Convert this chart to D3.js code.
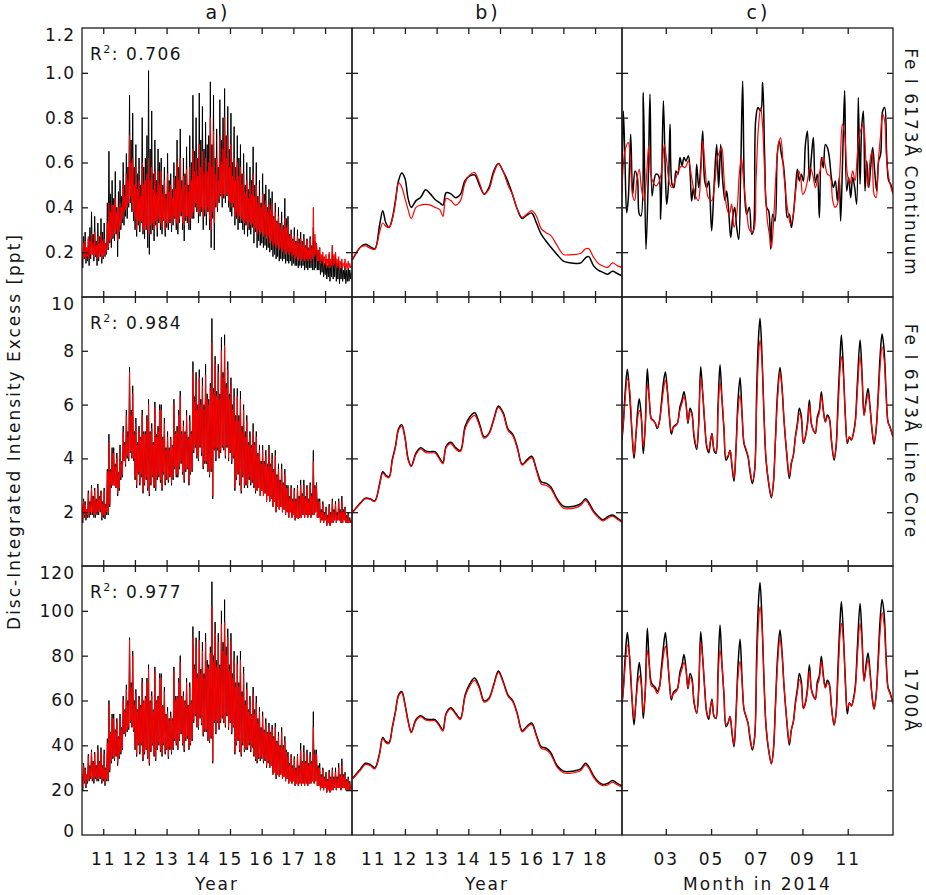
<!DOCTYPE html>
<html><head><meta charset="utf-8">
<script src="https://cdn.jsdelivr.net/npm/d3@7"></script>
<style>
body{margin:0;background:#fff}
text{font-family:"DejaVu Sans",sans-serif;fill:#151515}
</style>
</head><body><svg id="chart" width="926" height="895"></svg>
<script>
// ---------------- DATA ----------------
// panel a: samples every 0.025 yr from 2010.33
const yearsA = d3.range(341).map(i => +(2010.33 + 0.025 * i).toFixed(3));
const contA_black = [
0.20,0.13,0.27,0.17,0.29,0.15,0.22,0.16,0.26,0.14,0.31,0.17,0.38,0.19,0.28,0.16,0.36,0.18,0.25,0.14,
0.33,0.16,0.27,0.18,0.35,0.15,0.29,0.17,0.33,0.18,0.24,0.19,0.42,0.21,0.65,0.24,0.46,0.22,0.52,0.26,
0.44,0.25,0.56,0.28,0.40,0.18,0.47,0.26,0.52,0.30,0.45,0.33,0.60,0.32,0.50,0.36,0.64,0.35,0.58,0.40,
0.90,0.42,0.70,0.38,0.82,0.34,0.58,0.30,0.68,0.27,0.55,0.32,0.62,0.29,0.50,0.33,0.80,0.28,0.58,0.26,
0.62,0.30,0.72,0.22,1.01,0.19,0.66,0.28,0.83,0.30,0.55,0.25,0.70,0.32,0.52,0.27,0.66,0.33,0.60,0.30,
0.62,0.28,0.50,0.34,0.58,0.27,0.46,0.31,0.64,0.30,0.52,0.33,0.55,0.29,0.48,0.32,0.60,0.35,0.54,0.30,
0.70,0.28,0.58,0.33,0.75,0.36,0.52,0.30,0.62,0.25,0.55,0.34,0.67,0.33,0.50,0.30,0.72,0.30,0.60,0.35,
0.90,0.35,0.65,0.40,0.80,0.38,0.62,0.33,0.91,0.36,0.70,0.38,0.85,0.30,0.66,0.36,0.78,0.32,0.68,0.38,
0.72,0.30,0.96,0.22,0.68,0.35,0.90,0.21,0.62,0.40,0.75,0.38,0.58,0.42,0.88,0.45,0.70,0.40,0.80,0.44,
0.93,0.42,0.72,0.45,0.85,0.40,0.66,0.38,0.82,0.36,0.60,0.40,0.76,0.32,0.58,0.35,0.72,0.30,0.62,0.33,
0.68,0.33,0.55,0.30,0.64,0.28,0.50,0.32,0.60,0.27,0.48,0.30,0.58,0.28,0.52,0.31,0.67,0.24,0.50,0.29,
0.60,0.22,0.45,0.25,0.52,0.23,0.42,0.24,0.55,0.22,0.46,0.23,0.50,0.21,0.40,0.22,0.48,0.20,0.44,0.21,
0.47,0.18,0.36,0.19,0.42,0.17,0.34,0.18,0.40,0.16,0.33,0.17,0.38,0.16,0.32,0.17,0.44,0.15,0.35,0.16,
0.36,0.15,0.28,0.16,0.30,0.14,0.26,0.15,0.31,0.14,0.25,0.14,0.30,0.13,0.26,0.14,0.29,0.13,0.25,0.14,
0.28,0.12,0.23,0.13,0.26,0.12,0.22,0.13,0.27,0.13,0.23,0.12,0.31,0.12,0.25,0.13,0.24,0.12,0.21,0.12,
0.22,0.10,0.17,0.11,0.18,0.09,0.15,0.10,0.17,0.08,0.14,0.09,0.19,0.07,0.15,0.09,0.23,0.08,0.17,0.09,
0.20,0.07,0.15,0.08,0.16,0.06,0.13,0.08,0.15,0.07,0.12,0.08,0.14,0.06,0.12,0.07,0.13,0.07,0.12,0.08,
0.11];
const contA_red = [
0.20,0.17,0.24,0.18,0.25,0.17,0.22,0.18,0.27,0.17,0.25,0.19,0.28,0.19,0.24,0.18,0.29,0.19,0.23,0.17,
0.27,0.18,0.24,0.19,0.28,0.17,0.25,0.18,0.26,0.19,0.23,0.20,0.33,0.22,0.42,0.25,0.38,0.26,0.41,0.27,
0.41,0.28,0.44,0.30,0.38,0.25,0.40,0.29,0.42,0.32,0.40,0.35,0.50,0.38,0.45,0.39,0.55,0.40,0.52,0.42,
0.72,0.45,0.60,0.42,0.62,0.38,0.50,0.35,0.58,0.30,0.48,0.34,0.52,0.32,0.45,0.34,0.60,0.30,0.50,0.30,
0.52,0.32,0.55,0.30,0.62,0.28,0.52,0.32,0.58,0.33,0.48,0.30,0.56,0.34,0.46,0.31,0.56,0.35,0.50,0.33,
0.56,0.31,0.46,0.35,0.52,0.30,0.44,0.33,0.55,0.33,0.47,0.35,0.50,0.32,0.44,0.34,0.53,0.36,0.48,0.33,
0.60,0.32,0.52,0.35,0.62,0.38,0.48,0.33,0.54,0.32,0.50,0.36,0.57,0.36,0.47,0.33,0.58,0.35,0.52,0.36,
0.66,0.38,0.56,0.42,0.62,0.40,0.54,0.37,0.68,0.38,0.58,0.40,0.65,0.36,0.55,0.39,0.62,0.37,0.56,0.40,
0.60,0.35,0.80,0.30,0.58,0.38,0.74,0.33,0.55,0.42,0.62,0.40,0.52,0.44,0.72,0.46,0.60,0.44,0.66,0.46,
0.80,0.45,0.62,0.46,0.72,0.43,0.58,0.42,0.68,0.40,0.54,0.42,0.62,0.36,0.52,0.38,0.60,0.35,0.54,0.36,
0.58,0.35,0.50,0.34,0.55,0.33,0.46,0.34,0.52,0.31,0.44,0.33,0.50,0.32,0.46,0.33,0.55,0.30,0.45,0.31,
0.50,0.28,0.42,0.30,0.45,0.28,0.40,0.29,0.46,0.27,0.41,0.28,0.43,0.26,0.38,0.27,0.41,0.24,0.39,0.25,
0.42,0.23,0.35,0.24,0.38,0.22,0.33,0.23,0.36,0.21,0.31,0.22,0.33,0.20,0.30,0.21,0.35,0.19,0.31,0.20,
0.32,0.19,0.27,0.20,0.28,0.18,0.25,0.19,0.27,0.17,0.24,0.18,0.27,0.16,0.24,0.17,0.26,0.16,0.23,0.17,
0.26,0.16,0.22,0.17,0.25,0.16,0.21,0.17,0.26,0.16,0.22,0.17,0.40,0.18,0.28,0.19,0.24,0.16,0.21,0.16,
0.22,0.15,0.19,0.16,0.20,0.14,0.18,0.15,0.19,0.13,0.17,0.14,0.20,0.13,0.17,0.14,0.23,0.14,0.19,0.15,
0.20,0.13,0.17,0.14,0.18,0.12,0.16,0.13,0.17,0.13,0.15,0.14,0.17,0.12,0.15,0.13,0.16,0.13,0.15,0.13,
0.14];
const coreA_black = [
2.2,1.6,2.5,1.8,2.4,1.7,2.1,1.8,2.8,1.8,2.4,1.9,3.0,1.9,2.6,1.8,2.9,1.8,2.5,1.9,
3.05,1.9,2.6,2.0,2.8,1.7,2.4,1.8,2.9,1.75,2.3,1.9,3.6,1.9,4.9,2.2,3.6,2.9,4.4,3.0,
4.4,3.0,3.8,2.9,4.2,2.6,3.5,2.8,4.5,3.2,3.9,3.3,5.2,3.9,4.6,3.7,5.8,4.0,5.0,3.9,
7.4,4.2,5.8,4.0,6.7,3.9,5.0,3.2,5.5,2.9,4.6,3.4,5.2,3.0,4.8,3.3,5.8,2.7,5.0,3.0,
5.0,3.2,5.6,2.8,6.2,2.6,5.0,3.0,5.3,3.3,4.6,2.9,6.1,2.8,4.9,3.2,5.2,3.3,6.0,3.1,
6.0,2.8,4.8,3.4,5.5,3.0,4.4,3.2,5.0,3.1,4.4,3.3,4.8,3.0,4.5,3.2,6.2,3.6,5.0,3.3,
5.2,3.3,5.8,3.6,6.5,3.8,5.0,3.4,5.4,3.1,5.0,3.5,5.8,3.6,4.8,3.0,5.6,3.4,5.0,3.5,
7.6,4.2,6.3,4.4,7.2,4.0,6.0,3.9,7.3,4.4,6.2,4.1,7.0,3.6,6.0,3.8,7.5,3.8,6.4,3.5,
6.2,3.3,6.8,3.5,9.2,2.5,6.6,4.3,7.8,3.9,6.5,4.3,7.5,4.0,6.4,4.2,8.5,4.4,7.2,4.3,
8.6,4.0,6.8,4.4,7.6,3.9,6.4,4.2,7.0,3.8,6.0,4.0,6.6,2.8,5.6,3.2,6.6,3.4,5.6,3.0,
6.5,2.7,5.2,3.3,6.0,2.9,5.0,3.0,5.6,2.9,4.6,3.2,5.0,3.0,4.5,3.1,5.3,2.9,4.6,2.7,
5.0,2.8,4.2,2.9,4.5,2.6,3.9,2.8,4.5,2.6,3.9,2.7,4.3,2.4,3.8,2.6,4.5,2.4,3.8,2.5,
4.2,2.2,3.6,2.4,4.3,2.0,3.4,2.2,3.8,2.1,3.2,2.2,3.8,2.0,3.1,2.1,3.6,1.9,3.0,2.0,
3.0,1.8,2.6,2.0,3.0,1.8,2.5,1.9,2.9,1.7,2.5,1.8,3.0,1.75,2.6,1.8,3.2,1.8,2.7,1.9,
3.2,1.8,2.6,1.9,3.0,1.8,2.5,1.9,3.1,1.8,2.7,1.9,4.3,1.9,3.0,2.0,3.1,1.8,2.5,1.8,
2.5,1.6,2.1,1.7,2.4,1.6,2.0,1.7,2.2,1.5,1.9,1.6,2.3,1.5,2.0,1.6,2.5,1.6,2.1,1.7,
2.4,1.6,2.0,1.7,2.5,1.7,2.1,1.6,2.6,1.6,2.1,1.7,2.2,1.6,1.9,1.6,2.0,1.6,1.8,1.6,
1.7];
const coreA_red = [
2.3,1.7,2.4,1.9,2.3,1.8,2.1,1.9,2.7,1.9,2.3,2.0,2.9,2.0,2.5,1.9,2.8,1.9,2.4,2.0,
2.9,2.0,2.5,2.1,2.7,1.8,2.3,1.9,2.8,1.9,2.2,2.0,3.5,2.0,4.6,2.3,3.5,3.0,4.2,3.0,
4.2,3.0,3.7,2.9,4.0,2.7,3.4,2.9,4.3,3.3,3.8,3.4,5.0,3.9,4.5,3.8,5.6,4.1,4.8,4.0,
7.2,4.3,5.6,4.1,6.4,4.0,4.9,3.3,5.3,3.0,4.5,3.5,5.0,3.1,4.7,3.4,5.6,2.8,4.9,3.1,
4.9,3.3,5.4,2.9,6.0,2.7,4.9,3.1,5.1,3.4,4.5,3.0,5.9,2.9,4.8,3.3,5.0,3.4,5.8,3.2,
5.8,2.9,4.7,3.5,5.3,3.1,4.3,3.3,4.8,3.2,4.3,3.4,4.7,3.1,4.4,3.3,6.0,3.7,4.9,3.4,
5.0,3.4,5.6,3.7,6.3,3.9,4.9,3.5,5.2,3.2,4.9,3.6,5.6,3.7,4.7,3.1,5.4,3.5,4.9,3.6,
7.2,4.3,6.1,4.5,6.9,4.1,5.8,4.0,7.0,4.5,6.0,4.2,6.7,3.7,5.8,3.9,7.1,3.9,6.2,3.6,
6.0,3.4,6.6,3.6,8.3,2.6,6.4,4.4,7.5,4.0,6.3,4.4,7.2,4.1,6.2,4.3,8.0,4.5,7.0,4.4,
8.2,4.1,6.6,4.5,7.3,4.0,6.2,4.3,6.7,3.9,5.8,4.1,6.3,2.9,5.4,3.3,6.3,3.5,5.4,3.1,
6.2,2.8,5.0,3.4,5.8,3.0,4.8,3.1,5.4,3.0,4.5,3.3,4.8,3.1,4.4,3.2,5.0,3.0,4.5,2.8,
4.8,2.8,4.1,2.9,4.3,2.6,3.8,2.8,4.3,2.6,3.8,2.7,4.1,2.4,3.7,2.6,4.3,2.4,3.7,2.5,
4.0,2.2,3.5,2.4,4.1,2.0,3.3,2.2,3.6,2.1,3.1,2.2,3.6,2.0,3.0,2.1,3.4,1.9,2.9,2.0,
2.9,1.8,2.5,2.0,2.9,1.8,2.4,1.9,2.8,1.7,2.4,1.8,2.9,1.75,2.5,1.8,3.0,1.8,2.6,1.9,
3.0,1.8,2.5,1.9,2.9,1.8,2.4,1.9,3.0,1.8,2.6,1.9,3.9,1.9,2.9,2.0,3.0,1.8,2.4,1.8,
2.4,1.6,2.0,1.7,2.3,1.6,1.9,1.7,2.1,1.5,1.8,1.6,2.2,1.5,1.9,1.6,2.4,1.6,2.0,1.7,
2.3,1.6,1.9,1.7,2.4,1.7,2.0,1.6,2.4,1.6,2.0,1.7,2.1,1.6,1.8,1.6,1.9,1.6,1.7,1.6,
1.7];
const uvA_black = [
26,20,32,23,30,21,27,23,36,24,31,25,38,24,33,23,37,25,31,24,
40,24,33,25,39,23,31,24,38,22,30,24,43,24,60,28,46,32,54,34,
54,33,47,35,52,31,44,34,54,36,48,38,62,45,56,44,67,46,60,47,
88,50,68,48,82,46,60,38,65,35,56,40,62,36,58,40,70,33,60,36,
62,38,70,34,76,31,60,37,64,40,56,35,75,33,60,38,62,40,72,37,
72,35,58,40,66,36,54,38,57,34,52,38,55,36,52,38,75,42,62,40,
62,38,70,42,80,45,62,40,64,37,60,42,70,43,58,38,68,40,60,42,
93,50,76,53,88,48,72,47,91,52,74,49,86,44,72,46,90,46,78,42,
76,41,84,43,113,32,80,50,95,45,78,50,90,47,76,50,100,52,86,50,
105,48,84,53,92,47,76,50,90,45,72,48,82,36,68,40,80,42,68,37,
82,35,64,40,75,37,60,38,68,38,56,40,62,37,54,39,66,35,56,33,
62,32,52,34,57,33,48,34,55,32,47,33,52,30,46,32,50,30,46,31,
49,27,44,28,50,25,42,27,46,26,40,27,48,25,40,26,44,24,38,25,
37,23,32,24,36,23,31,24,35,22,30,23,36,22,31,23,41,22,33,23,
40,22,33,23,38,22,32,23,37,23,33,24,55,23,38,24,38,22,31,22,
32,20,27,21,30,20,26,21,28,19,25,20,29,19,26,20,30,20,26,21,
30,20,26,21,32,21,27,20,34,21,27,21,28,20,25,20,26,20,24,20,
22];
const uvA_red = [
27,21,31,24,29,22,27,24,35,25,30,26,37,25,32,24,36,26,30,25,
38,25,32,26,37,24,30,25,36,23,29,25,41,25,58,29,45,33,52,35,
52,34,46,36,50,32,43,35,52,37,47,39,60,46,55,45,65,47,58,48,
87,51,66,49,80,47,58,39,63,36,55,41,60,37,57,41,68,34,59,37,
61,39,68,35,74,32,59,38,62,41,55,36,73,34,59,39,61,41,70,38,
70,36,57,41,64,37,53,39,55,35,51,39,53,37,51,39,73,43,60,41,
61,39,68,43,77,46,61,41,62,38,59,43,68,44,57,39,66,41,59,43,
88,51,74,54,84,49,70,48,87,53,72,50,82,45,70,47,86,47,75,43,
74,42,81,44,102,33,77,51,90,46,75,51,86,48,74,51,94,53,82,51,
95,49,80,54,88,48,73,51,86,46,70,49,78,37,66,41,76,43,66,38,
78,36,62,41,72,38,58,39,65,39,55,41,60,38,53,40,63,36,54,34,
59,33,50,35,55,34,47,35,53,33,46,34,50,31,45,33,48,30,45,31,
47,27,43,28,48,26,41,27,44,26,39,27,46,25,39,26,42,24,37,25,
35,23,31,24,35,23,30,24,34,22,29,23,35,22,30,23,38,22,32,23,
37,22,32,23,36,22,31,23,35,23,32,24,48,23,36,24,36,22,30,22,
30,20,26,21,29,20,25,21,27,19,24,20,28,19,25,20,29,20,25,21,
28,20,25,21,30,21,26,20,31,21,26,21,27,20,24,20,25,20,23,20,
22];

// panel b: smoothed series
const yearsB = [2010.35,2010.6,2010.75,2010.9,2011.05,2011.2,2011.3,2011.4,2011.5,2011.6,
2011.7,2011.8,2011.9,2012.0,2012.1,2012.2,2012.35,2012.5,2012.65,2012.8,
2012.95,2013.1,2013.2,2013.3,2013.45,2013.6,2013.75,2013.9,2014.05,2014.2,
2014.35,2014.5,2014.65,2014.8,2014.95,2015.1,2015.25,2015.4,2015.55,2015.7,
2015.85,2016.0,2016.15,2016.3,2016.45,2016.6,2016.8,2017.0,2017.2,2017.4,
2017.55,2017.7,2017.8,2017.95,2018.1,2018.25,2018.4,2018.55,2018.7,2018.85];
const contB_black = [0.168,0.223,0.235,0.225,0.215,0.32,0.385,0.33,0.31,0.35,
0.43,0.52,0.553,0.53,0.44,0.40,0.43,0.445,0.478,0.46,
0.435,0.42,0.41,0.465,0.46,0.443,0.458,0.52,0.54,0.545,
0.50,0.458,0.488,0.56,0.595,0.56,0.515,0.455,0.39,0.35,
0.365,0.375,0.33,0.28,0.25,0.223,0.19,0.16,0.153,0.15,
0.152,0.175,0.18,0.14,0.12,0.11,0.102,0.115,0.105,0.094];
const contB_red = [0.168,0.223,0.228,0.218,0.212,0.29,0.33,0.315,0.31,0.345,
0.42,0.51,0.49,0.44,0.39,0.35,0.40,0.41,0.413,0.41,
0.40,0.39,0.36,0.44,0.43,0.41,0.43,0.51,0.545,0.555,
0.51,0.46,0.48,0.55,0.595,0.56,0.50,0.455,0.39,0.355,
0.37,0.385,0.36,0.305,0.287,0.275,0.23,0.19,0.188,0.19,
0.195,0.215,0.215,0.178,0.15,0.138,0.132,0.152,0.14,0.131];
const coreB_black = [2.0,2.35,2.52,2.5,2.42,3.05,3.5,3.37,3.32,3.95,
4.45,5.1,5.25,4.8,4.0,3.72,4.2,4.4,4.28,4.25,
4.25,4.0,3.85,4.45,4.6,4.4,4.3,5.2,5.55,5.7,
5.3,4.8,4.93,5.45,5.95,5.7,5.1,4.9,4.4,3.78,
3.95,4.08,3.6,3.13,3.08,2.95,2.5,2.22,2.2,2.24,
2.32,2.5,2.36,2.05,1.85,1.72,1.83,1.9,1.78,1.66];
const coreB_red = [2.0,2.33,2.5,2.48,2.4,3.0,3.45,3.33,3.28,3.9,
4.4,5.05,5.2,4.75,3.95,3.7,4.15,4.35,4.22,4.2,
4.2,3.95,3.8,4.4,4.55,4.35,4.25,5.1,5.45,5.6,
5.22,4.75,4.9,5.4,5.9,5.65,5.05,4.85,4.35,3.75,
3.9,4.03,3.55,3.05,3.0,2.88,2.45,2.15,2.13,2.17,
2.26,2.44,2.3,2.0,1.8,1.68,1.78,1.85,1.74,1.62];
const uvB_black = [25.3,29.5,32.0,31.5,30.0,36.5,43.5,41.6,41.3,48.0,
55.0,62.5,64.0,58.5,51.0,46.0,51.5,53.2,51.8,51.5,
51.5,48.8,47.0,54.2,56.8,54.3,52.0,62.5,67.5,70.0,
66.0,59.8,61.0,67.0,73.2,68.5,62.5,60.0,54.0,46.5,
48.5,50.0,44.5,39.4,38.8,36.8,31.0,28.5,28.3,28.8,
29.5,32.0,30.5,26.5,23.8,22.5,23.0,24.3,23.0,21.9];
const uvB_red = [25.0,29.0,31.5,31.0,29.5,36.0,43.0,41.0,40.8,47.5,
54.5,62.0,63.5,58.0,50.5,45.5,51.0,52.8,51.3,51.0,
51.0,48.2,46.3,53.8,56.3,53.8,51.5,61.8,66.5,69.0,
65.2,59.3,60.5,66.5,72.5,68.0,62.0,59.5,53.5,46.0,
48.0,49.3,44.0,38.7,38.0,36.0,30.3,27.8,27.5,28.0,
28.8,31.3,29.8,25.8,23.2,22.0,22.3,23.6,22.4,21.3];

// panel c: day of 2014
const daysC1_black = [0,1.8,4.0,6.3,8.5,11.7,14.4,17.5,20.7,23.3,
25.6,28.7,32.3,35.5,37.7,40.4,43.1,45.8,49.4,52.1,
55.7,58.4,60.2,62.4,64.7,67.4,70.0,72.7,75.4,78.1,
80.8,83.5,86.2,89.4,91.6,93.8,96.1,98.3,100.6,103.3,
106.0,108.7,111.4,114.1,116.8,118.5,120.8,123.9,127.5,130.2,
132.9,135.6,138.8,141.0,143.7,146.4,149.1,151.8,154.5,157.2,
159.8,162.5,165.2,167.9,171.5,174.7,176.9,180.0,183.2,186.8,
189.5,192.2,194.9,197.6,200.3,203.0,206.1,209.2,211.9,214.6,
217.3,220.0,222.7,225.4,228.1,230.8,233.5,236.2,238.9,241.6,
244.3,247.0,249.7,252.4,255.0,257.7,260.4,263.1,265.8,268.5,
271.2,273.9,276.6,279.3,282.0,284.7,287.4,290.1,292.7,294.5,
297.2,299.9,302.6,305.3,308.0,310.7,313.4,316.1,318.3,320.6,
322.8,325.1,327.3,329.6,332.3,334.9,337.6,340.3,343.0,345.7,
348.4,351.1,353.8,356.5,359.2,361.9,365.0];
const contC_black = [0.466,0.83,0.607,0.376,0.44,0.726,0.458,0.5625,0.533,0.369,
0.362,0.912,0.213,0.548,0.905,0.451,0.518,0.548,0.54,0.347,
0.875,0.548,0.414,0.488,0.771,0.503,0.488,0.5625,0.548,0.622,
0.585,0.622,0.607,0.63,0.5625,0.4286,0.488,0.436,0.592,0.488,
0.577,0.741,0.518,0.488,0.518,0.443,0.295,0.488,0.68,0.488,
0.68,0.518,0.43,0.473,0.384,0.265,0.354,0.40,0.31,0.257,
0.548,0.964,0.458,0.369,0.40,0.28,0.295,0.786,0.845,0.83,
0.957,0.622,0.40,0.384,0.213,0.369,0.339,0.637,0.696,0.637,
0.592,0.488,0.354,0.369,0.31,0.369,0.473,0.57,0.518,0.548,
0.518,0.68,0.741,0.518,0.622,0.711,0.51,0.548,0.354,0.622,
0.577,0.68,0.667,0.622,0.533,0.488,0.518,0.4286,0.533,0.339,
0.622,0.92,0.473,0.533,0.443,0.533,0.488,0.414,0.89,0.503,
0.756,0.83,0.473,0.607,0.488,0.577,0.667,0.5625,0.473,0.607,
0.637,0.83,0.845,0.637,0.518,0.503,0.466];
const daysC1_red = [0,4.0,8.5,11.7,14.4,17.1,19.8,23.3,26.0,29.6,
33.2,35.9,38.6,42.2,45.8,49.4,53.4,57.0,60.2,63.8,
67.4,71.4,75.9,80.4,84.9,89.4,93.8,98.3,102.8,106.0,
108.7,112.3,116.3,120.8,125.3,128.4,131.1,134.3,137.4,141.0,
144.6,147.7,150.9,154.5,158.0,160.7,163.4,167.9,172.4,176.9,
180.5,183.7,186.8,189.5,192.6,195.8,198.5,201.2,203.9,207.4,
210.6,213.7,217.3,220.9,224.1,227.2,230.8,234.4,238.0,240.7,
243.4,246.5,249.7,253.2,256.8,260.4,263.1,266.7,270.3,273.4,
276.6,280.2,283.8,286.9,290.1,293.7,296.8,299.9,303.5,307.1,
310.7,313.9,317.0,319.7,322.8,325.1,328.7,331.4,334.1,336.8,
339.5,342.2,345.3,348.4,351.1,353.8,356.5,360.1,365.0];
const contC_red = [0.466,0.652,0.689,0.577,0.451,0.43,0.518,0.57,0.488,0.43,
0.548,0.674,0.548,0.51,0.496,0.51,0.5625,0.68,0.607,0.51,
0.488,0.518,0.5625,0.585,0.577,0.607,0.533,0.458,0.43,0.548,
0.696,0.5625,0.443,0.43,0.518,0.622,0.644,0.667,0.533,0.40,
0.369,0.414,0.31,0.369,0.548,0.622,0.533,0.384,0.295,0.295,
0.518,0.756,0.845,0.756,0.518,0.339,0.28,0.22,0.324,0.548,
0.68,0.71,0.577,0.443,0.369,0.324,0.369,0.488,0.5625,0.533,
0.458,0.473,0.518,0.577,0.548,0.488,0.518,0.5625,0.622,0.592,
0.548,0.54,0.43,0.40,0.414,0.577,0.771,0.726,0.548,0.503,
0.5625,0.518,0.637,0.726,0.756,0.771,0.592,0.488,0.607,0.652,
0.458,0.443,0.607,0.726,0.815,0.786,0.607,0.518,0.458];
const daysC23 = [0,1.8,4.5,7.2,9.9,13.5,16.2,18.9,21.6,23.3,
26.0,28.7,31.4,34.1,36.8,39.5,42.2,44.9,47.6,50.3,
53.0,55.7,58.4,61.1,63.8,66.5,69.2,71.8,74.5,78.1,
80.8,83.5,86.2,88.9,91.6,94.3,97.0,100.6,103.3,106.0,
108.7,111.4,114.1,116.8,119.4,121.2,123.9,126.6,129.3,132.0,
134.7,137.4,140.1,142.8,145.5,148.2,150.9,153.6,156.3,159.0,
161.7,164.3,167.0,169.7,172.4,175.6,178.7,181.4,183.7,185.9,
188.6,191.3,194.0,197.6,201.2,203.9,206.6,209.7,212.8,215.5,
218.2,221.8,225.4,228.1,230.8,233.5,236.2,238.9,241.6,244.3,
247.0,249.7,252.4,255.0,257.7,260.4,263.1,265.8,268.5,271.2,
273.9,276.6,279.3,282.0,285.6,288.3,291.0,293.7,295.5,298.2,
300.9,303.5,306.2,308.9,311.6,314.3,317.0,320.6,323.3,326.0,
328.7,331.4,334.1,336.8,339.5,342.2,344.9,347.6,350.3,353.0,
355.6,358.3,361.0,365.0];
const coreC_black = [4.7,5.3,6.54,7.31,6.54,4.93,4.0,4.93,5.92,6.22,
5.55,4.18,5.3,7.33,6.17,5.48,5.42,5.3,5.11,5.36,
6.04,6.79,7.21,6.54,5.55,4.9,5.17,5.24,5.3,5.92,
6.17,6.48,6.04,5.3,5.86,5.67,4.8,4.33,5.3,7.41,
6.41,5.3,4.43,4.21,4.68,4.93,4.3,4.18,5.92,7.48,
6.17,5.05,3.93,4.06,4.3,3.68,3.15,4.43,6.17,7.0,
5.67,4.55,4.3,4.06,3.5,3.06,3.56,6.54,8.4,9.21,
7.78,5.55,3.93,3.06,2.54,3.06,4.68,6.54,7.38,6.66,
5.42,4.18,3.25,3.81,4.12,4.8,5.3,5.86,5.55,4.55,
4.8,5.3,6.17,5.3,5.05,4.93,5.55,5.79,6.48,5.79,
5.36,5.61,5.48,4.68,3.93,4.43,6.17,7.78,8.59,7.28,
5.55,4.55,4.8,4.68,4.93,5.42,6.79,8.4,7.16,5.61,
6.17,6.6,5.92,5.05,4.53,5.05,6.29,7.78,8.62,8.03,
6.54,5.36,5.17,4.8];
const coreC_red = [4.8,5.3,6.3,6.97,6.66,5.0,4.12,4.9,5.6,5.79,
5.5,4.43,5.2,6.76,6.2,5.45,5.4,5.3,5.15,5.35,
5.9,6.5,6.91,6.5,5.6,5.0,5.15,5.2,5.3,5.8,
6.05,6.29,6.0,5.35,5.75,5.6,4.9,4.45,5.25,7.01,
6.45,5.35,4.5,4.3,4.7,4.9,4.35,4.25,5.7,6.85,
6.2,5.1,4.05,4.1,4.3,3.75,3.25,4.35,5.8,6.35,
5.6,4.6,4.35,4.1,3.6,3.15,3.6,6.0,7.7,8.4,
7.6,5.6,4.0,3.1,2.57,3.1,4.6,6.3,7.22,6.6,
5.45,4.25,3.35,3.85,4.12,4.75,5.2,5.67,5.45,4.6,
4.8,5.2,5.98,5.3,5.05,4.95,5.45,5.7,6.32,5.75,
5.35,5.55,5.45,4.7,4.0,4.4,5.8,7.3,7.78,7.1,
5.5,4.6,4.8,4.7,4.9,5.35,6.5,7.78,7.0,5.6,
6.05,6.4,5.85,5.05,4.6,5.05,6.1,7.4,8.15,7.7,
6.4,5.35,5.15,4.8];
const uvC_black = [58.5,65.2,80.4,90.3,80.4,60.6,49.1,60.6,72.8,77.0,
68.3,52.0,65.2,92.2,75.9,68.0,66.7,65.8,64.0,66.0,
74.3,83.5,90.3,80.4,68.3,60.2,63.6,64.5,65.2,72.8,
75.9,80.5,74.3,65.2,72.1,69.7,59.0,54.3,65.2,90.7,
78.8,65.2,54.5,51.6,57.6,60.6,52.9,52.0,72.8,93.7,
75.9,62.1,48.3,49.9,52.9,45.3,39.4,54.5,75.9,87.3,
69.7,56.0,52.9,49.9,43.0,37.9,43.8,80.4,103.3,112.6,
95.7,68.3,48.3,37.6,32.0,37.6,57.6,80.4,91.4,81.9,
66.7,51.4,40.1,46.9,50.7,59.0,65.2,72.1,68.3,56.5,
59.0,65.2,75.9,65.2,62.1,60.6,68.3,71.2,79.7,71.2,
65.9,69.0,67.4,57.6,49.1,54.5,75.9,95.7,104.1,89.5,
68.3,54.0,59.0,57.6,60.6,66.7,83.5,103.3,88.1,69.0,
75.9,81.2,72.8,62.1,56.1,62.1,77.4,95.7,105.1,98.8,
80.4,65.9,63.6,58.7];
const uvC_red = [58.5,64.5,76.5,84.8,81.0,61.5,51.5,60.0,68.5,71.0,
67.0,54.5,63.5,82.5,75.5,66.5,66.0,64.8,63.0,65.5,
72.0,79.5,84.3,79.3,68.5,61.0,63.0,63.5,64.8,71.0,
74.0,77.0,73.5,65.5,70.2,68.5,60.0,54.5,64.2,86.2,
79.0,65.5,55.0,52.5,57.5,60.0,53.2,52.0,69.8,82.5,
75.8,62.4,49.5,50.2,52.6,46.0,40.0,53.2,71.0,77.6,
68.5,56.3,53.2,50.1,44.0,38.5,44.0,73.5,94.0,101.9,
93.0,68.5,49.0,38.0,31.5,38.0,56.3,77.0,87.7,80.5,
66.5,52.0,41.0,47.0,50.3,58.1,63.6,69.3,66.6,56.3,
58.7,63.6,73.2,64.8,61.8,60.6,66.7,69.8,77.3,70.4,
65.5,67.9,66.7,57.5,49.0,53.9,71.0,89.3,94.4,86.7,
67.2,56.3,58.7,57.5,60.0,65.5,79.5,94.4,85.6,68.5,
74.0,78.3,71.6,61.8,56.3,61.8,74.7,90.5,99.2,94.0,
78.3,65.5,63.0,58.7];

// labels / ticks
const rowLabels = ["Fe I 6173Å Continuum", "Fe I 6173Å Line Core", "1700Å"];
const r2Values = ["0.706", "0.984", "0.977"];
const panelTitles = ["a)", "b)", "c)"];
const yDomains = [[0, 1.2], [0, 10], [0, 120]];
const yTickVals = [[0.2, 0.4, 0.6, 0.8, 1.0], [2, 4, 6, 8], [20, 40, 60, 80, 100]];
const yLabelVals = [[0.2, 0.4, 0.6, 0.8, 1.0, 1.2], [2, 4, 6, 8, 10], [0, 20, 40, 60, 80, 100, 120]];
const yearTicks = [2011, 2012, 2013, 2014, 2015, 2016, 2017, 2018];
const yearLabels = ["11", "12", "13", "14", "15", "16", "17", "18"];
const monthTicks = [59, 120, 181, 243, 304];
const monthLabels = ["03", "05", "07", "09", "11"];

// ---------------- DRAWING ----------------
const svg = d3.select("#chart");
const defs = svg.append("defs");
const W = [82, 352, 622, 893];
const H = [28, 297, 566, 835];
const yearDomain = [2010.33, 2018.85];
const dayDomain = [0, 365];
const frameColor = "#1e1e1e";

const seriesA = [[contA_black, contA_red], [coreA_black, coreA_red], [uvA_black, uvA_red]];
const seriesB = [[contB_black, contB_red], [coreB_black, coreB_red], [uvB_black, uvB_red]];
const seriesC = [
  [[daysC1_black, contC_black], [daysC1_red, contC_red]],
  [[daysC23, coreC_black], [daysC23, coreC_red]],
  [[daysC23, uvC_black], [daysC23, uvC_red]]
];

function panel(r, c, xDomain, xTicks, black, red, curve, wB, wR) {
  const x = d3.scaleLinear().domain(xDomain).range([W[c], W[c + 1]]);
  const y = d3.scaleLinear().domain(yDomains[r]).range([H[r + 1], H[r]]);
  const id = "clip" + r + c;
  defs.append("clipPath").attr("id", id).append("rect")
    .attr("x", W[c]).attr("y", H[r]).attr("width", W[c + 1] - W[c]).attr("height", H[r + 1] - H[r]);
  const g = svg.append("g").attr("clip-path", "url(#" + id + ")");
  const line = d3.line().x(d => x(d[0])).y(d => y(d[1])).curve(curve);
  g.append("path").datum(d3.zip(black[0], black[1])).attr("d", line)
    .attr("fill", "none").attr("stroke", "#000").attr("stroke-width", wB).attr("stroke-linejoin", "round");
  g.append("path").datum(d3.zip(red[0], red[1])).attr("d", line)
    .attr("fill", "none").attr("stroke", "#ff0000").attr("stroke-width", wR).attr("stroke-linejoin", "round");

  const tk = 6;
  const ax = (axis, tx, ty) => {
    const a = svg.append("g").attr("transform", "translate(" + tx + "," + ty + ")").call(axis);
    a.select(".domain").remove();
    a.selectAll("line").attr("stroke", frameColor).attr("stroke-width", 1.3);
    a.selectAll("text").remove();
  };
  ax(d3.axisRight(y).tickValues(yTickVals[r]).tickSize(tk), W[c], 0);
  ax(d3.axisLeft(y).tickValues(yTickVals[r]).tickSize(tk), W[c + 1], 0);
  ax(d3.axisBottom(x).tickValues(xTicks).tickSize(tk), 0, H[r]);
  ax(d3.axisTop(x).tickValues(xTicks).tickSize(tk), 0, H[r + 1]);
  svg.append("rect").attr("x", W[c]).attr("y", H[r]).attr("width", W[c + 1] - W[c]).attr("height", H[r + 1] - H[r])
    .attr("fill", "none").attr("stroke", frameColor).attr("stroke-width", 1.3);
  return { x, y };
}

const scales = [];
for (let r = 0; r < 3; r++) {
  scales.push([
    panel(r, 0, yearDomain, yearTicks, [yearsA, seriesA[r][0]], [yearsA, seriesA[r][1]], d3.curveLinear, 1.0, 1.0),
    panel(r, 1, yearDomain, yearTicks, [yearsB, seriesB[r][0]], [yearsB, seriesB[r][1]], d3.curveCatmullRom, 1.5, 1.2),
    panel(r, 2, dayDomain, monthTicks, seriesC[r][0], seriesC[r][1], d3.curveCatmullRom, 1.5, 1.2)
  ]);
}

const styleText = (sel, ls) => sel.attr("font-family", "DejaVu Sans, sans-serif").attr("font-size", 17)
  .attr("fill", "#151515").attr("letter-spacing", ls);

// y tick labels (left column)
for (let r = 0; r < 3; r++) {
  const y = scales[r][0].y;
  const fmt = r === 0 ? d3.format(".1f") : d3.format("d");
  const top = yDomains[r][1], bottom = yDomains[r][0];
  const a = svg.append("g").attr("transform", "translate(" + W[0] + ",0)")
    .call(d3.axisLeft(y).tickValues(yLabelVals[r]).tickSize(0).tickPadding(7).tickFormat(fmt));
  a.select(".domain").remove();
  styleText(a.selectAll("text"), "1px");
  a.selectAll(".tick").filter(d => d === top).select("text").attr("y", 7);
  a.selectAll(".tick").filter(d => d === bottom).select("text").attr("y", -4);
}
// x tick labels (bottom row)
[[0, yearLabels, yearTicks], [1, yearLabels, yearTicks], [2, monthLabels, monthTicks]].forEach(([c, labs, ticks]) => {
  const x = scales[2][c].x;
  const a = svg.append("g").attr("transform", "translate(0," + H[3] + ")")
    .call(d3.axisBottom(x).tickValues(ticks).tickSize(0).tickPadding(18).tickFormat((d, i) => labs[i]));
  a.select(".domain").remove();
  styleText(a.selectAll("text"), "2px");
});

// axis titles
const xTitles = ["Year", "Year", "Month in 2014"];
for (let c = 0; c < 3; c++) {
  styleText(svg.append("text").attr("x", (W[c] + W[c + 1]) / 2).attr("y", 890)
    .attr("text-anchor", "middle").text(xTitles[c]), "2px");
  styleText(svg.append("text").attr("x", (W[c] + W[c + 1]) / 2 + 1).attr("y", 19)
    .attr("text-anchor", "middle").text(panelTitles[c]), "3px").attr("font-size", 19);
}
styleText(svg.append("text").attr("transform", "translate(20," + (H[0] + H[3]) / 2 + ") rotate(-90)")
  .attr("text-anchor", "middle").text("Disc-Integrated Intensity Excess [ppt]"), "2px");

for (let r = 0; r < 3; r++) {
  const cy = (H[r] + H[r + 1]) / 2;
  styleText(svg.append("text").attr("transform", "translate(905," + cy + ") rotate(90)")
    .attr("text-anchor", "middle").text(rowLabels[r]), "2px");
  const t = styleText(svg.append("text").attr("x", 90).attr("y", H[r] + 32), "1.5px");
  t.append("tspan").text("R");
  t.append("tspan").attr("font-size", 11).attr("dy", -7).text("2");
  t.append("tspan").attr("dy", 7).text(": " + r2Values[r]);
}
</script></body></html>
